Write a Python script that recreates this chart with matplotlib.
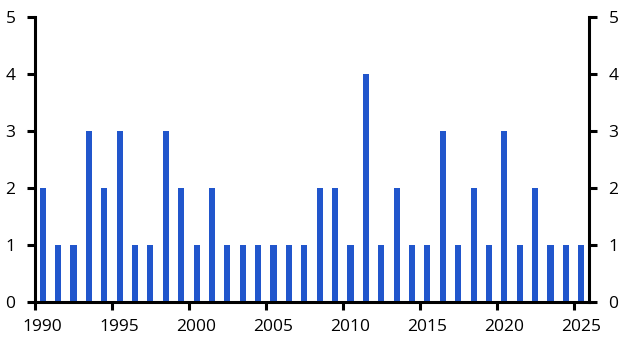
import matplotlib.pyplot as plt

years = list(range(1990, 2026))
counts = [2, 1, 1, 3, 2, 3, 1, 1, 3, 2,
          1, 2, 1, 1, 1, 1, 1, 1, 2, 2,
          1, 4, 1, 2, 1, 1, 3, 1, 2, 1,
          3, 1, 2, 1, 1, 1]
xticks = list(range(1990, 2026, 5))
yticks = [0, 1, 2, 3, 4, 5]

plt.rcParams['font.family'] = ['Open Sans', 'DejaVu Sans']

fig = plt.figure(figsize=(6.32, 3.6), dpi=100)
ax = fig.add_axes([35 / 632, 1 - 302 / 360, (589 - 35) / 632, (302 - 17) / 360])

ax.bar([y + 0.5 for y in years], counts, width=0.4, color='#2156CC')

ax.set_xlim(1990, 2026)
ax.set_ylim(0, 5)
# ticks sit at the start of the year, labels in the middle of it
ax.set_xticks(xticks)
ax.set_xticklabels([])
ax.set_xticks([x + 0.5 for x in xticks], [str(x) for x in xticks], minor=True)
ax.set_yticks(yticks)

ax.spines['top'].set_visible(False)
for s in ['left', 'right', 'bottom']:
    ax.spines[s].set_linewidth(2.2)

ax.tick_params(axis='both', direction='out', width=2.2, length=6, labelsize=12.5, colors='black')
ax.tick_params(axis='x', which='minor', length=0, labelsize=12.5, pad=12)
ax.tick_params(axis='y', left=True, right=True, labelleft=True, labelright=True, pad=8)

fig.savefig('out.png', dpi=100)
